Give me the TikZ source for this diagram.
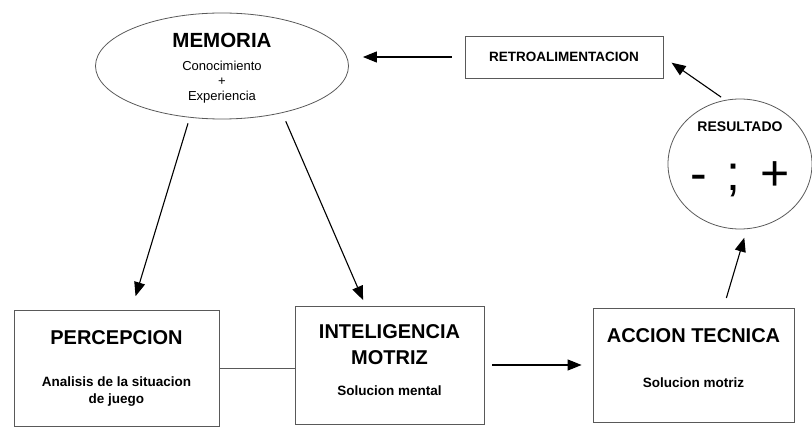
\documentclass[tikz,border=0pt]{standalone}
\usepackage{fontspec}
\setmainfont{Liberation Sans}
\usetikzlibrary{arrows.meta,positioning,shapes.geometric,calc}

\begin{document}
\begin{tikzpicture}[
  x=1pt, y=-1pt,
  >={Triangle[length=14pt,width=11pt]},
  box/.style={draw=black!65, line width=0.8pt, inner sep=0pt, align=center},
  oval/.style={ellipse, draw=black!65, line width=0.8pt, inner sep=0pt, align=center},
  txt/.style={inner sep=0pt, align=center},
  link/.style={line width=1.1pt},
]
  \useasboundingbox (0,0) rectangle (812,430);

  % Top: memory
  \node[oval, minimum width=253pt, minimum height=106pt] (mem) at (222,66) {};
  \node[txt] (memtext) at ([yshift=-2.5pt]mem.center)
    {\fontsize{20.5}{22}\selectfont\bfseries MEMORIA\\[11pt]
     \fontsize{13}{14}\selectfont\mdseries Conocimiento\\[3pt]
     \fontsize{13}{14}\selectfont\mdseries +\\[3pt]
     \fontsize{13}{14}\selectfont\mdseries Experiencia};

  % Feedback
  \node[box, minimum width=198pt, minimum height=42pt] (retro) at (564,57)
    {\fontsize{13.5}{16}\selectfont\bfseries RETROALIMENTACION};

  % Result
  \node[oval, minimum width=144pt, minimum height=130pt] (res) at (740,164) {};
  \node[txt] (restext) at ([yshift=4.5pt]res.center)
    {\fontsize{14}{16}\selectfont\bfseries RESULTADO\\[29pt]
     \fontsize{50}{52}\selectfont\mdseries -\hspace{0.4em};\hspace{0.4em}+};

  % Bottom row
  \node[box, minimum width=205pt, minimum height=116pt] (perc) at (116.5,368)
    {\fontsize{20}{24}\selectfont\bfseries PERCEPCION\\[30pt]
     \fontsize{13.5}{17}\selectfont\bfseries Analisis de la situacion\\[5pt]
     \fontsize{13.5}{17}\selectfont\bfseries de juego};
  \node[box, minimum width=189pt, minimum height=118pt] (intel) at (389.5,365) {};
  \node[txt] (inteltext) at ([yshift=5pt]intel.center)
    {\fontsize{20}{26}\selectfont\bfseries INTELIGENCIA\\[11pt]
     \fontsize{20}{26}\selectfont\bfseries MOTRIZ\\[19pt]
     \fontsize{13.5}{17}\selectfont\bfseries Solucion mental};
  \node[box, minimum width=201pt, minimum height=114pt] (acc) at (693.5,365) {};
  \node[txt] (acctext) at ([yshift=6.5pt]acc.center)
    {\fontsize{20}{24}\selectfont\bfseries ACCION TECNICA\\[33pt]
     \fontsize{13.5}{17}\selectfont\bfseries Solucion motriz};

  % Arrows
  \draw[->, link, shorten <=13pt, shorten >=14pt] (retro.west) -- (retro.west -| mem.east);
  \draw[->, link, shorten <=6pt, shorten >=14pt] (mem.238) -- ([xshift=15pt]perc.north);
  \draw[->, link, shorten <=9pt, shorten >=6pt] (mem.322) -- ([xshift=-24pt]intel.north);
  \draw[link, line width=0.8pt, black!65] (perc.east) -- (perc.east -| intel.west);
  \draw[->, link, shorten <=8pt, shorten >=11pt] (intel.east) -- (acc.west);
  \draw[->, link, shorten <=10pt, shorten >=9pt] ([xshift=30pt]acc.north) -- (res.276);
  \draw[->, link, shorten <=5pt, shorten >=10pt] (res.103) -- (retro.east);
\end{tikzpicture}
\end{document}
